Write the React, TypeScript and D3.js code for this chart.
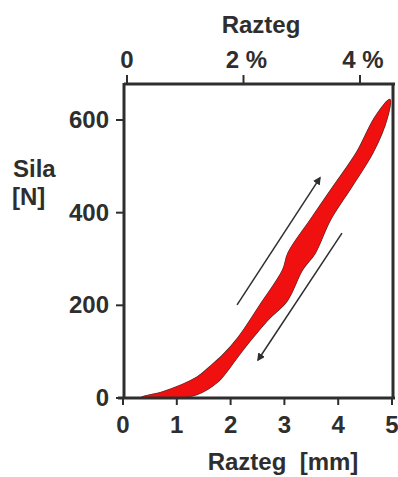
import React, { useEffect, useRef } from "react";
import * as d3 from "d3";

// Razteg [mm] / Sila [N] hysteresis loop
const mmTicks = [0, 1, 2, 3, 4, 5];
const forceTicks = [0, 200, 400, 600];
const strainTicks = [0, 2, 4];
const strainLabels = ["0", "2 %", "4 %"];

// loading branch (upper / left edge of the red band): [mm, N]
const loading: [number, number][] = [
  [0.35, 2], [0.74, 13], [1.38, 45], [1.62, 68], [1.86, 93], [2.14, 130], [2.55, 201],
  [2.97, 276], [3.07, 313], [3.48, 384], [3.92, 458], [4.35, 531], [4.68, 605], [4.96, 644],
];
// unloading branch (lower / right edge), from the top back down
const unloading: [number, number][] = [
  [4.91, 605], [4.65, 531], [4.26, 458], [3.85, 384], [3.57, 313], [3.33, 276],
  [3.05, 210], [2.72, 172], [2.45, 136], [2.2, 100], [1.99, 67], [1.75, 34], [1.38, 8], [0.95, 0], [0.55, 0],
];

// direction arrows: [tail, head] in [mm, N]
const upArrow: [number, number][] = [[2.12, 201], [3.66, 475]];
const downArrow: [number, number][] = [[4.07, 356], [2.51, 82]];

const W = 398;
const H = 477;
const FONT = "'Liberation Sans', Arial, sans-serif";
const INK = "#2e2e2e";

function Chart() {
  const ref = useRef<SVGSVGElement>(null);

  useEffect(() => {
    const svg = d3.select(ref.current);
    svg.selectAll("*").remove();

    const x = d3.scaleLinear().domain([0, 5]).range([123, 392]);
    const y = d3.scaleLinear().domain([0, 600]).range([398, 120]);
    const xs = d3.scaleLinear().domain([0, 4]).range([127, 360]);

    const left = 124, right = 393, top = 84, bottom = 398;

    svg.append("defs").append("marker")
      .attr("id", "head")
      .attr("viewBox", "0 0 10 10")
      .attr("refX", 8).attr("refY", 5)
      .attr("markerWidth", 8).attr("markerHeight", 8)
      .attr("markerUnits", "userSpaceOnUse")
      .attr("orient", "auto")
      .append("path")
      .attr("d", "M0,0 L10,5 L0,10 Z")
      .attr("fill", INK);

    // loop: dark outline underneath, red band on top
    const loop = d3.line<[number, number]>()
      .x(d => x(d[0]))
      .y(d => y(d[1]))
      .curve(d3.curveCatmullRomClosed.alpha(0.5));
    const pts = loading.concat(unloading);

    svg.append("path")
      .attr("d", loop(pts))
      .attr("fill", "none")
      .attr("stroke", "#3a2a2a")
      .attr("stroke-width", 1.6);

    svg.append("path")
      .attr("d", loop(pts))
      .attr("fill", "#f01010")
      .attr("stroke", "#f01010")
      .attr("stroke-width", 0.6)
      .attr("stroke-linejoin", "round");

    // arrows
    [upArrow, downArrow].forEach(a => {
      svg.append("line")
        .attr("x1", x(a[0][0])).attr("y1", y(a[0][1]))
        .attr("x2", x(a[1][0])).attr("y2", y(a[1][1]))
        .attr("stroke", INK)
        .attr("stroke-width", 1.5)
        .attr("marker-end", "url(#head)");
    });

    // frame
    const frame = svg.append("g").attr("stroke", INK).attr("fill", "none");
    frame.append("line").attr("x1", left).attr("x2", right + 2).attr("y1", top).attr("y2", top).attr("stroke-width", 3);
    frame.append("line").attr("x1", left).attr("x2", left).attr("y1", top - 1).attr("y2", bottom + 1).attr("stroke-width", 3);
    frame.append("line").attr("x1", left - 6).attr("x2", right + 2).attr("y1", bottom).attr("y2", bottom).attr("stroke-width", 3);
    frame.append("line").attr("x1", right).attr("x2", right).attr("y1", top).attr("y2", bottom).attr("stroke-width", 3);

    // ticks
    mmTicks.forEach(t => {
      frame.append("line").attr("x1", x(t)).attr("x2", x(t)).attr("y1", bottom).attr("y2", bottom + 7).attr("stroke-width", 2);
    });
    strainTicks.forEach(t => {
      frame.append("line").attr("x1", xs(t)).attr("x2", xs(t)).attr("y1", top).attr("y2", top - 9).attr("stroke-width", 2);
    });
    forceTicks.forEach(t => {
      frame.append("line").attr("x1", left).attr("x2", left - 8).attr("y1", y(t)).attr("y2", y(t)).attr("stroke-width", 2);
    });

    const txt = svg.append("g")
      .attr("font-family", FONT)
      .attr("font-weight", "bold")
      .attr("font-size", 24)
      .attr("fill", INK);

    txt.selectAll(".xl").data(mmTicks).enter().append("text")
      .attr("x", d => x(d)).attr("y", 433)
      .attr("text-anchor", "middle")
      .text(d => d);

    txt.selectAll(".sl").data(strainTicks).enter().append("text")
      .attr("x", (d, i) => xs(d) + (i ? 3 : 0)).attr("y", 68)
      .attr("text-anchor", "middle")
      .text((d, i) => strainLabels[i]);

    txt.selectAll(".yl").data(forceTicks).enter().append("text")
      .attr("x", 109).attr("y", d => y(d) + 8)
      .attr("text-anchor", "end")
      .text(d => d);

    txt.append("text").attr("x", 261).attr("y", 33).attr("text-anchor", "middle").text("Razteg");
    txt.append("text").attr("x", 283).attr("y", 470).attr("text-anchor", "middle").attr("xml:space", "preserve").text("Razteg  [mm]");
    txt.append("text").attr("x", 13).attr("y", 177).text("Sila");
    txt.append("text").attr("x", 12).attr("y", 205).text("[N]");
  }, []);

  return (
    <svg ref={ref} width={W} height={H} style={{ position: "absolute", left: 0, top: 0, background: "#fff" }} />
  );
}

export default function App() {
  return <Chart />;
}
